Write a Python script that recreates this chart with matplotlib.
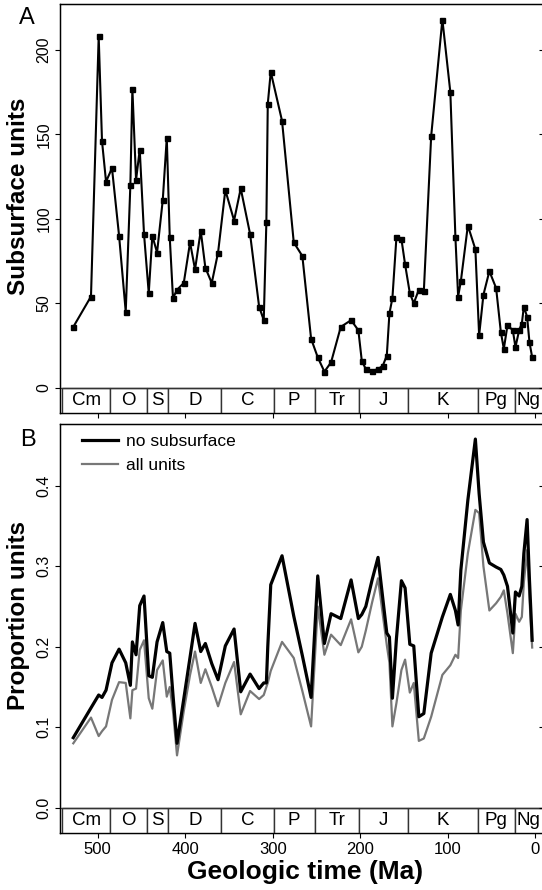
import matplotlib
matplotlib.use('Agg')
import matplotlib.pyplot as plt
from matplotlib.patches import Rectangle

plt.rcParams['font.family'] = ['Liberation Sans', 'DejaVu Sans']

#---- data
ages = [527.9, 507.7, 498.9, 495.1, 490.5, 483.7, 475.6, 468.0, 462.7, 460.4,
        456.2, 452.0, 447.1, 441.7, 437.6, 432.2, 425.7, 421.1, 417.7, 414.0,
        409.4, 401.7, 394.5, 388.8, 382.3, 377.0, 369.7, 362.5, 354.2, 344.2,
        336.6, 325.9, 315.6, 310.3, 307.3, 305.7, 302.3, 289.4, 276.0, 266.2,
        256.2, 248.6, 241.0, 233.4, 222.3, 210.5, 202.2, 198.3, 193.7, 186.5,
        179.7, 174.3, 169.7, 166.7, 163.3, 158.7, 153.0, 148.8, 143.4, 138.9,
        133.1, 127.4, 119.0, 106.2, 97.1, 91.3, 88.2, 85.1, 77.1, 68.5,
        64.2, 59.3, 52.5, 44.8, 39.4, 36.0, 31.8, 25.7, 22.7, 18.5,
        15.4, 13.1, 9.4, 6.7, 3.6]

subsurface = [36, 54, 208, 146, 122, 130, 90, 45, 120, 177,
              123, 141, 91, 56, 90, 80, 111, 148, 89, 53,
              58, 62, 86, 70, 93, 71, 62, 80, 117, 99,
              118, 91, 48, 40, 98, 168, 187, 158, 86, 78,
              29, 18, 9.5, 15, 36, 40, 34, 16, 11, 10,
              11, 13, 19, 44, 53, 89, 88, 73, 56, 50,
              58, 57, 149, 218, 175, 89, 54, 63, 96, 82,
              31, 55, 69, 59, 33, 23, 37, 34, 24, 34,
              38, 48, 42, 27, 18]

prop_no_sub = [0.087, 0.124, 0.140, 0.137, 0.146, 0.180, 0.197, 0.180, 0.152, 0.206,
               0.190, 0.251, 0.263, 0.164, 0.162, 0.206, 0.230, 0.194, 0.192, 0.140,
               0.080, 0.135, 0.187, 0.229, 0.194, 0.204, 0.179, 0.159, 0.201, 0.222,
               0.144, 0.166, 0.148, 0.155, 0.155, 0.200, 0.277, 0.313, 0.238, 0.189,
               0.137, 0.288, 0.204, 0.241, 0.235, 0.283, 0.235, 0.240, 0.250, 0.283,
               0.311, 0.260, 0.217, 0.212, 0.136, 0.210, 0.282, 0.273, 0.203, 0.201,
               0.113, 0.117, 0.192, 0.237, 0.265, 0.245, 0.227, 0.295, 0.382, 0.458,
               0.390, 0.330, 0.304, 0.299, 0.296, 0.289, 0.275, 0.217, 0.268, 0.263,
               0.275, 0.316, 0.358, 0.283, 0.208]

prop_all = [0.080, 0.112, 0.089, 0.095, 0.101, 0.134, 0.156, 0.155, 0.111, 0.146,
            0.148, 0.196, 0.208, 0.136, 0.123, 0.171, 0.183, 0.138, 0.150, 0.120,
            0.065, 0.120, 0.165, 0.194, 0.155, 0.172, 0.150, 0.126, 0.155, 0.181,
            0.116, 0.145, 0.135, 0.140, 0.150, 0.155, 0.170, 0.206, 0.186, 0.145,
            0.101, 0.250, 0.190, 0.215, 0.202, 0.234, 0.193, 0.200, 0.220, 0.255,
            0.285, 0.240, 0.202, 0.180, 0.101, 0.130, 0.171, 0.184, 0.143, 0.155,
            0.083, 0.086, 0.113, 0.165, 0.177, 0.190, 0.186, 0.245, 0.316, 0.370,
            0.366, 0.300, 0.245, 0.254, 0.262, 0.270, 0.241, 0.192, 0.241, 0.231,
            0.237, 0.280, 0.320, 0.260, 0.199]

period_names = ['Cm', 'O', 'S', 'D', 'C', 'P', 'Tr', 'J', 'K', 'Pg', 'Ng']
period_start = [541, 485.4, 443.8, 419.2, 358.9, 298.9, 252.2, 201.3, 145, 66, 23]
period_end = [485.4, 443.8, 419.2, 358.9, 298.9, 252.2, 201.3, 145, 66, 23, -20]

x_ticks = [500, 400, 300, 200, 100, 0]
yticks_a = [0, 50, 100, 150, 200]
yticks_b = [0.0, 0.1, 0.2, 0.3, 0.4]

W, H = 542, 890
XLIM = (543.1, -12.2)


def px_rect(l, t, r, b):
    return [l / W, 1 - b / H, (r - l) / W, (b - t) / H]


def draw_strip(ax, ybot):
    # period boxes below the zero line
    for name, s, e in zip(period_names, period_start, period_end):
        ax.add_patch(Rectangle((s, ybot), e - s, -ybot, facecolor='white',
                               edgecolor='#333333', lw=1.0, zorder=3, clip_on=True))
        e_vis = max(e, -7.7)
        ax.text((s + e_vis) / 2, ybot / 2, name, ha='center', va='center',
                fontsize=13.5, zorder=4)
    ax.axhline(0, color='#333333', lw=1.0, zorder=4)


def style_axes(ax, ylim, yticks, ylabels):
    ax.set_xlim(*XLIM)
    ax.set_ylim(*ylim)
    ax.set_xticks(x_ticks)
    ax.set_yticks(yticks)
    ax.set_yticklabels(ylabels, rotation=90, va='center', fontsize=11.5)
    ax.tick_params(axis='both', direction='out', length=3.6, width=0.8, pad=2.5)
    for sp in ax.spines.values():
        sp.set_linewidth(1.0)
    # inward ticks on the right side
    tw = ax.twinx()
    tw.set_ylim(*ylim)
    tw.set_yticks(yticks)
    tw.tick_params(axis='y', direction='in', length=5, width=0.8, labelright=False)
    return tw


fig = plt.figure(figsize=(W / 100, H / 100), dpi=100)

#---- panel A
axA = fig.add_axes(px_rect(60, 4, 546, 413))
ylimA = (-14.98, 227.2)
axA.plot(ages, subsurface, color='black', lw=1.5, marker='s', ms=3.6, zorder=5)
draw_strip(axA, ylimA[0])
style_axes(axA, ylimA, yticks_a, ['0', '50', '100', '150', '200'])
axA.tick_params(axis='x', labelbottom=False)

#---- panel B
axB = fig.add_axes(px_rect(60, 424, 546, 833.3))
ylimB = (-0.0318, 0.4767)
axB.plot(ages, prop_no_sub, color='black', lw=2.3, label='no subsurface', zorder=6)
axB.plot(ages, prop_all, color='#777777', lw=1.6, label='all units', zorder=5)
draw_strip(axB, ylimB[0])
style_axes(axB, ylimB, yticks_b, ['0.0', '0.1', '0.2', '0.3', '0.4'])
axB.set_xticklabels([str(t) for t in x_ticks], fontsize=12)
axB.tick_params(axis='x', pad=3)

axB.legend(loc='upper left', frameon=False, fontsize=12.5, handlelength=2.1,
           handletextpad=0.45, labelspacing=0.5, borderpad=0, borderaxespad=0,
           bbox_to_anchor=(82 / W, 1 - 434 / H), bbox_transform=fig.transFigure)

#---- labels
fig.text(27 / W, 1 - 18 / H, 'A', fontsize=17, ha='center', va='center')
fig.text(28 / W, 1 - 440 / H, 'B', fontsize=17, ha='center', va='center')
fig.text(19 / W, 1 - 196 / H, 'Subsurface units', rotation=90, fontsize=17.5,
         fontweight='bold', ha='center', va='center')
fig.text(19 / W, 1 - 616 / H, 'Proportion units', rotation=90, fontsize=17.5,
         fontweight='bold', ha='center', va='center')
fig.text(305 / W, 1 - 872 / H, 'Geologic time (Ma)', fontsize=19,
         fontweight='bold', ha='center', va='center')

fig.savefig('out.png', dpi=100)
